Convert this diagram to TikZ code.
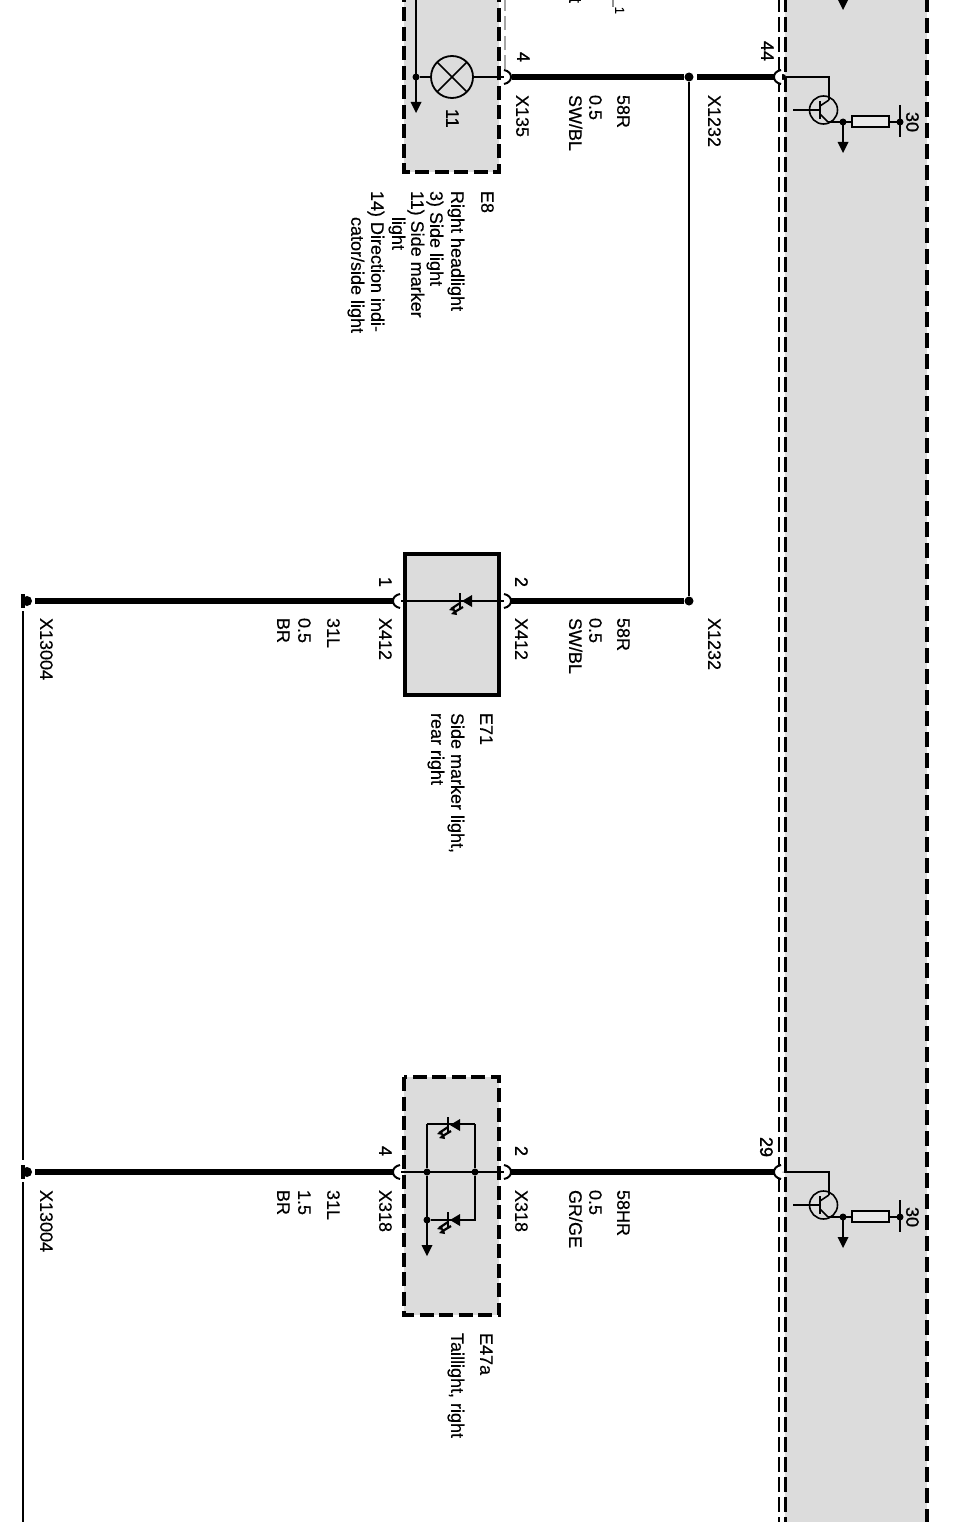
\documentclass[tikz,border=0pt]{standalone}
\usepackage{fontspec}
\setmainfont{Liberation Sans}[FakeBold=0.35]
\newfontfamily\pinfont{Liberation Sans}[FakeBold=1.3]
\definecolor{panel}{HTML}{DCDCDC}
\tikzset{
  lbl/.style={rotate=-90,anchor=base west,inner sep=0pt,outer sep=0pt,yshift=2.2pt,font=\fontsize{18}{20}\selectfont},
  lblend/.style={lbl,anchor=base east},
  pin/.style={lbl,font=\fontsize{18}{20}\selectfont\pinfont},
  heavy/.style={draw=black,line width=6pt},
  fine/.style={draw=black,line width=1.6pt},
  medium/.style={draw=black,line width=2.2pt},
  boxsolid/.style={draw=black,fill=panel,line width=4pt},
  boxdash/.style={draw=black,fill=panel,line width=3.6pt,dash pattern=on 14pt off 5.5pt},
  dotnode/.style={circle,fill=black,inner sep=0pt,minimum size=#1},
  dotnode/.default=7pt,
  tip/.pic={\fill[black] (-5.5,-11) -- (5.5,-11) -- (0,0) -- cycle;},
  plugr/.pic={\fill[white] (-1,-6) rectangle (3,6);
     \draw[black,line width=2pt] (-1,-7) .. controls (4,-6) and (6,-3) .. (6,0) .. controls (6,3) and (4,6) .. (-1,7);},
  plugl/.pic={\fill[white] (-4,-6) rectangle (1,6);
     \draw[black,line width=2pt] (0,-7) .. controls (-5,-6) and (-7,-3) .. (-7,0) .. controls (-7,3) and (-5,6) .. (0,7);},
  ledsym/.pic={\fill[black] (12,-6) -- (12,6) -- (2,0) -- cycle;
     \draw[black,line width=1.6pt] (0,-8) -- (0,8);
     \draw[black,line width=2.2pt] (0,2) -- (-9,8) (3,6) -- (-7,12);
     \fill[black] (-11,9) -- (-6,5) -- (-5,10) -- cycle;
     \fill[black] (-9,13) -- (-4,9) -- (-3,14) -- cycle;},
  driver/.pic={
     \draw[black,line width=1.6pt] (823.5,110) circle[radius=14pt];
     \draw[black,line width=1.6pt] (793,110) -- (820,110);
     \draw[black,line width=2.6pt] (820,101) -- (820,119);
     \draw[black,line width=1.6pt] (820,106) -- (829,100) (820,114) -- (828,122);
  },
}
\begin{document}
\begin{tikzpicture}[x=1pt,y=-1pt]
\useasboundingbox (0,0) rectangle (958,1522);
\clip (0,0) rectangle (958,1522);
\fill[white] (0,0) rectangle (958,1522);

% control unit panel
\fill[panel] (785,-5) rectangle (927,1530);
\draw[black,line width=1.5pt,dash pattern=on 15pt off 5pt] (779,-3) -- (779,1530);
\draw[black,line width=3pt,dash pattern=on 15pt off 5pt] (785,-3) -- (785,1530);
\draw[black,line width=4.2pt,dash pattern=on 15pt off 6pt] (927,-3) -- (927,1530);

% components
\draw[boxdash] (404,-12) rectangle (499,172);
\draw[draw=black!35,line width=2pt,dash pattern=on 14pt off 5.5pt] (505,-3) -- (505,70);
\draw[boxsolid] (405,554) rectangle (499,695);
\draw[boxdash] (404,1077) rectangle (499,1315);

% junction points
\coordinate (e8in) at (505,77);
\coordinate (lampR) at (473,77);
\coordinate (lampL) at (431,77);
\node[dotnode=7pt] (e8j) at (416,77) {};
\coordinate (e8top) at (416,-5);
\coordinate (e8tip) at (416,102);
\node[draw=black,line width=1.8pt,circle,minimum size=42pt,inner sep=0pt,
      path picture={\draw[black,line width=1.5pt] (path picture bounding box.north west) -- (path picture bounding box.south east)
      (path picture bounding box.north east) -- (path picture bounding box.south west);}] (lamp) at (452,77) {};
\node[dotnode=9pt] (splitA) at (689,77) {};
\node[dotnode=9pt] (splitB) at (689,601) {};
\coordinate (unitA) at (775,77);
\coordinate (wireAr) at (697,77);
\coordinate (wireAl) at (512,77);
\coordinate (stubA) at (684,77);
\coordinate (e71r) at (505,601);
\coordinate (e71rw) at (510,601);
\coordinate (e71l) at (400,601);
\coordinate (e71lw) at (393,601);
\node[circle,fill=black,inner sep=0pt,minimum size=10pt] (gndA) at (27,601) {};
\node[circle,fill=black,inner sep=0pt,minimum size=10pt] (gndB) at (27,1172) {};
\fill[black] (21,594) rectangle (25,608);
\fill[black] (21,1165) rectangle (25,1179);
\coordinate (gndAw) at (35,601);
\coordinate (gndBw) at (35,1172);
\coordinate (tailrw) at (510,1172);
\coordinate (taillw) at (393,1172);
\coordinate (tailr) at (505,1172);
\coordinate (taill) at (400,1172);
\coordinate (unitB) at (775,1172);
\node[dotnode=7pt] (tj1) at (427,1172) {};
\node[dotnode=7pt] (tj2) at (475,1172) {};
\node[dotnode=7pt] (tj3) at (427,1220) {};
\coordinate (tc1) at (427,1124);
\coordinate (tc2) at (475,1124);
\coordinate (tc3) at (475,1220);
\coordinate (ttip) at (427,1246);
\node[dotnode=6pt] (uA) at (783,77) {};
\node[dotnode=1pt] (uB) at (783,1172) {};
\coordinate (colA) at (829,100);
\coordinate (colB) at (829,1195);

% wires
\path[heavy] (wireAl) -- (stubA);
\path[heavy] (wireAr) -- (unitA);
\path[fine] (splitA) -- (splitB);
\path[heavy] (splitB) -- (e71rw);
\path[heavy] (e71lw) -- (gndAw);
\path[heavy] (tailrw) -- (unitB);
\path[heavy] (taillw) -- (gndBw);
\path[fine] (e71l) -- (e71r);
\path[fine] (e8in) -- (lampR);
\path[fine] (lampL) -- (e8j);
\path[medium] (e8top) -- (e8tip);
\path[fine] (taill) -- (tailr);
\path[fine] (tc1) -- (tc2);
\path[medium] (tj1) -- (tc1);
\path[medium] (tj2) -- (tc2);
\path[medium] (tj2) -- (tc3) -- (tj3);
\path[medium] (tj1) -- (ttip);
\draw[fine] (uA) -| (colA);
\draw[fine] (uB) -| (colB);
\draw[fine] (23,611) -- (23,1160);
\draw[fine] (23,1182) -- (23,1530);

% terminals and arrow tips
\pic at (416,113) {tip};
\pic at (427,1256) {tip};
\pic at (843,10) {tip};
\pic at (e8in) {plugr};
\pic at (e71r) {plugr};
\pic at (e71l) {plugl};
\pic at (tailr) {plugr};
\pic at (taill) {plugl};
\pic at (781,77) {plugl};
\pic at (781,1172) {plugl};

% LEDs
\pic at (460,601) {ledsym};
\pic at (448,1125) {ledsym};
\pic at (448,1220) {ledsym};

% drivers
\pic at (0,0) {driver};
\pic at (0,1095) {driver};
\foreach \off in {0,1095}{
  \begin{scope}[yshift=-\off pt]
    \draw[fine] (828,122) -- (852,122);
    \fill[black] (843,122) circle[radius=3.5pt];
    \draw[medium] (843,122) -- (843,145);
    \pic at (843,153) {tip};
    \draw[medium,fill=panel!60!white] (852,116) rectangle (889,127);
    \draw[fine] (889,122) -- (900,122);
    \fill[black] (900,122) circle[radius=3.5pt];
    \draw[medium] (900,105) -- (900,137);
  \end{scope}
}

% labels
\node[pin] (t44) at (759,41) {44};
\node[lbl] (tx1232a) at (706,95) {X1232};
\node[pin] (t4a) at (515,52) {4};
\node[lbl] (tx135) at (514,95) {X135};
\node[lbl] (t58ra) at (615,95) {58R};
\node[lbl] (t05a) at (587,95) {0.5};
\node[lbl] (tswa) at (567,95) {SW/BL};
\node[pin] (t11) at (444,109) {11};
\node[lbl] (te8) at (479,191) {E8};
\node[lbl] (te8a) at (449,191) {Right headlight};
\node[lbl] (te8b) at (428,191) {3) Side light};
\node[lbl] (te8c) at (409,191) {11) Side marker};
\node[lbl] (te8d) at (390,217) {light};
\node[lbl] (te8e) at (369,191) {14) Direction indi-};
\node[lbl] (te8f) at (349,217) {cator/side light};
\node[lblend,font=\fontsize{13}{14}\selectfont] (tcut1) at (613,14) {\_1};
\node[lblend] (tcut2) at (567,3) {t};

\node[pin] (t1) at (377,577) {1};
\node[pin] (t2a) at (513,577) {2};
\node[lbl] (tx412a) at (513,618) {X412};
\node[lbl] (tx412b) at (377,618) {X412};
\node[lbl] (tx1232b) at (706,618) {X1232};
\node[lbl] (t58rb) at (615,618) {58R};
\node[lbl] (t05b) at (587,618) {0.5};
\node[lbl] (tswb) at (567,618) {SW/BL};
\node[lbl] (t31a) at (325,618) {31L};
\node[lbl] (t05c) at (296,618) {0.5};
\node[lbl] (tbra) at (275,618) {BR};
\node[lbl] (txga) at (38,618) {X13004};
\node[lbl] (te71) at (478,713) {E71};
\node[lbl] (te71a) at (449,713) {Side marker light,};
\node[lbl] (te71b) at (429,713) {rear right};

\node[pin] (t29) at (758,1137) {29};
\node[pin] (t4b) at (377,1146) {4};
\node[pin] (t2b) at (513,1146) {2};
\node[lbl] (tx318a) at (513,1190) {X318};
\node[lbl] (tx318b) at (377,1190) {X318};
\node[lbl] (t58hr) at (615,1190) {58HR};
\node[lbl] (t05d) at (587,1190) {0.5};
\node[lbl] (tgr) at (567,1190) {GR/GE};
\node[lbl] (t31b) at (325,1190) {31L};
\node[lbl] (t15) at (296,1190) {1.5};
\node[lbl] (tbrb) at (275,1190) {BR};
\node[lbl] (txgb) at (38,1190) {X13004};
\node[lbl] (te47) at (478,1333) {E47a};
\node[lbl] (te47a) at (449,1333) {Taillight, right};
\node[pin] (t30a) at (904,112) {30};
\node[pin] (t30b) at (904,1207) {30};
\end{tikzpicture}
\end{document}
